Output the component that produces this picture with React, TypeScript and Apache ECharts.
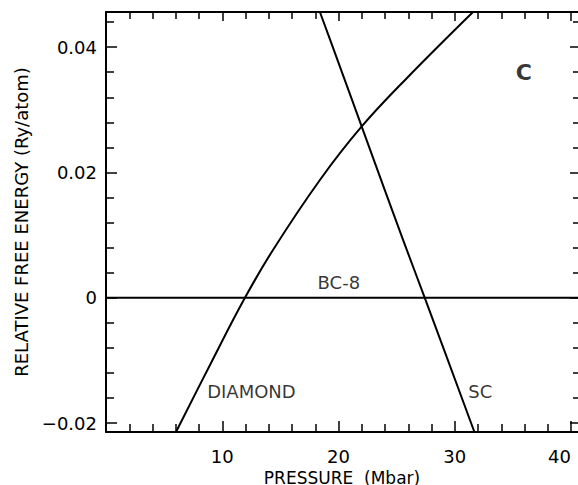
import React, { useEffect, useRef } from "react";
import * as echarts from "echarts";

const diamondX = [6.02, 9.0, 11.95, 14.35, 18.4, 21.98, 25.85, 31.57];
const diamondY = [-0.0214, -0.0105, 0, 0.0076, 0.0188, 0.0273, 0.035, 0.0456];
const scX = [18.4, 20.12, 22.41, 25.56, 27.42, 31.69];
const scY = [0.0456, 0.0369, 0.0252, 0.0092, 0, -0.0214];
const bc8X = [0, 40.6];
const bc8Y = [0, 0];

const xMajor = [10, 20, 30, 40];
const xMinor = [2, 4, 6, 8, 12, 14, 16, 18, 22, 24, 26, 28, 32, 34, 36, 38];
const yMajor = [-0.02, 0, 0.02, 0.04];
const yMinor = [-0.016, -0.012, -0.008, -0.004, 0.004, 0.008, 0.012, 0.016, 0.024, 0.028, 0.032, 0.036, 0.044];

const labelNames = ["BC-8", "DIAMOND", "SC", "C"];
const labelX = [20.03, 12.51, 32.19, 35.93];
const labelY = [0.00243, -0.015, -0.01488, 0.03593];

const X_MIN = 0;
const X_MAX = 40.6;
const Y_MIN = -0.0214;
const Y_MAX = 0.0456;

const FONT = "DejaVu Sans";
const FS = 18;

function fmtY(v: number): string {
  if (Math.abs(v) < 1e-9) return "0";
  const s = Math.abs(v).toFixed(2);
  return (v < 0 ? "\u2212" : "") + s;
}

export default function App() {
  const ref = useRef<HTMLDivElement>(null);
  useEffect(() => {
    document.body.style.margin = "0";
    document.body.style.overflow = "hidden";
    document.documentElement.style.overflow = "hidden";
    if (!ref.current) return;
    const chart = echarts.init(ref.current, null, { renderer: "svg", width: 578, height: 485 });
    const lineStyle = { color: "#000", width: 2 };
    const tickStyle = { color: "#000", width: 1.5 };
    const baseX = (extra: any) => ({
      type: "value",
      min: X_MIN,
      max: X_MAX,
      splitLine: { show: false },
      axisLabel: { show: false },
      ...extra,
    });
    const baseY = (extra: any) => ({
      type: "value",
      min: Y_MIN,
      max: Y_MAX,
      splitLine: { show: false },
      axisLabel: { show: false },
      ...extra,
    });
    const option: any = {
      animation: false,
      backgroundColor: "#fff",
      textStyle: { fontFamily: FONT },
      grid: {
        left: 106,
        right: 0,
        top: 12,
        bottom: 53,
        containLabel: false,
        outerBoundsMode: "none",
      },
      xAxis: [
        baseX({
          position: "bottom",
          axisLine: { show: true, onZero: false, lineStyle },
          axisTick: { show: true, inside: true, length: 11, customValues: xMajor, lineStyle: tickStyle },
          axisLabel: {
            show: true,
            customValues: xMajor,
            margin: 15,
            color: "#000",
            fontSize: FS,
            fontFamily: FONT,
            alignMaxLabel: "right",
          },
          name: "PRESSURE  (Mbar)",
          nameLocation: "middle",
          nameGap: 37,
          nameMoveOverlap: false,
          nameTextStyle: { color: "#000", fontSize: 17, fontFamily: FONT },
        }),
        baseX({
          position: "bottom",
          axisLine: { show: false, onZero: false },
          axisTick: { show: true, inside: true, length: 8, customValues: xMinor, lineStyle: tickStyle },
        }),
        baseX({
          position: "top",
          axisLine: { show: true, onZero: false, lineStyle },
          axisTick: { show: true, inside: true, length: 9, customValues: xMajor, lineStyle: tickStyle },
        }),
        baseX({
          position: "top",
          axisLine: { show: false, onZero: false },
          axisTick: { show: true, inside: true, length: 7, customValues: xMinor, lineStyle: tickStyle },
        }),
      ],
      yAxis: [
        baseY({
          position: "left",
          axisLine: { show: true, onZero: false, lineStyle },
          axisTick: { show: true, inside: true, length: 11, customValues: yMajor, lineStyle: tickStyle },
          axisLabel: {
            show: true,
            customValues: yMajor,
            margin: 9,
            color: "#000",
            fontSize: FS,
            fontFamily: FONT,
            formatter: (v: number) => fmtY(v),
          },
          name: "RELATIVE FREE ENERGY (Ry/atom)",
          nameLocation: "middle",
          nameGap: 76,
          nameTextStyle: { color: "#000", fontSize: FS, fontFamily: FONT },
        }),
        baseY({
          position: "left",
          axisLine: { show: false, onZero: false },
          axisTick: { show: true, inside: true, length: 8, customValues: yMinor, lineStyle: tickStyle },
        }),
        baseY({
          position: "right",
          axisLine: { show: false, onZero: false },
          axisTick: { show: true, inside: true, length: 8, customValues: yMajor, lineStyle: tickStyle },
        }),
        baseY({
          position: "right",
          axisLine: { show: false, onZero: false },
          axisTick: { show: true, inside: true, length: 5, customValues: yMinor, lineStyle: tickStyle },
        }),
      ],
      series: [
        {
          type: "line",
          name: "DIAMOND",
          data: diamondX.map((x, i) => [x, diamondY[i]]),
          smooth: 0.4,
          showSymbol: false,
          symbol: "none",
          lineStyle: { color: "#000", width: 2 },
        },
        {
          type: "line",
          name: "SC",
          data: scX.map((x, i) => [x, scY[i]]),
          smooth: 0.3,
          showSymbol: false,
          symbol: "none",
          lineStyle: { color: "#000", width: 2 },
        },
        {
          type: "line",
          name: "BC-8",
          data: bc8X.map((x, i) => [x, bc8Y[i]]),
          showSymbol: false,
          symbol: "none",
          lineStyle: { color: "#000", width: 2 },
        },
        {
          type: "scatter",
          symbolSize: 0,
          silent: true,
          data: labelNames.map((n, i) => ({
            value: [labelX[i], labelY[i]],
            name: n,
            label: n === "C"
              ? { fontSize: 22, fontWeight: "bold", color: "#000" }
              : { color: "#000" },
          })),
          label: {
            show: true,
            position: "inside",
            formatter: (p: any) => p.name,
            color: "#000",
            fontSize: FS,
            fontFamily: FONT,
          },
        },
      ],
    };
    chart.setOption(option);
    return () => chart.dispose();
  }, []);
  return <div ref={ref} style={{ width: 578, height: 485 }} />;
}
